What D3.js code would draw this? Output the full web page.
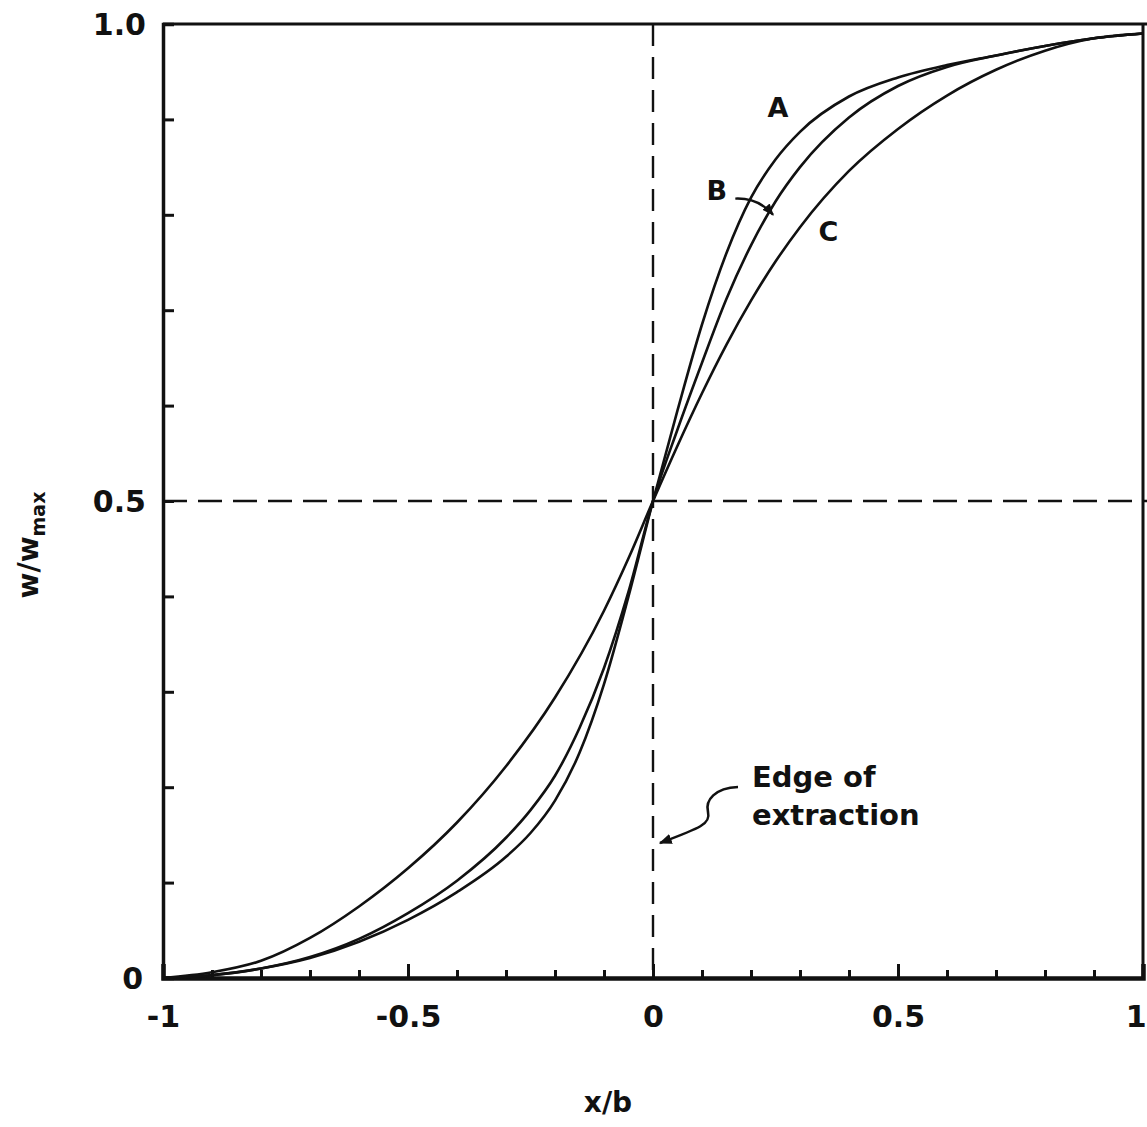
<!DOCTYPE html>
<html><head><meta charset="utf-8">
<script src="https://cdn.jsdelivr.net/npm/d3@7/dist/d3.min.js"></script>
<style>
body{margin:0;background:#fff;}
text{font-family:"DejaVu Sans",sans-serif;font-weight:bold;fill:#111;}
</style></head>
<body>
<svg id="chart" width="1147" height="1127"></svg>
<script>
// ---- data ----
const curveA_x = [-1.0,-0.9,-0.8,-0.7,-0.6,-0.5,-0.4,-0.3,-0.25,-0.2,-0.15,-0.1,-0.05,0,0.05,0.1,0.15,0.2,0.25,0.3,0.4,0.5,0.6,0.7,0.8,0.9,1.0];
const curveA_y = [0.0,0.003,0.010,0.021,0.038,0.061,0.090,0.127,0.152,0.186,0.236,0.308,0.400,0.5,0.595,0.685,0.760,0.818,0.858,0.887,0.924,0.944,0.957,0.967,0.977,0.985,0.99];
const curveB_x = [-1.0,-0.9,-0.8,-0.7,-0.6,-0.5,-0.4,-0.3,-0.25,-0.2,-0.15,-0.1,-0.05,0,0.05,0.1,0.15,0.2,0.25,0.3,0.4,0.5,0.6,0.7,0.8,0.9,1.0];
const curveB_y = [0.0,0.003,0.010,0.022,0.041,0.068,0.102,0.147,0.176,0.212,0.262,0.325,0.405,0.5,0.575,0.645,0.712,0.768,0.814,0.850,0.902,0.935,0.955,0.967,0.977,0.985,0.99];
const curveC_x = [-1.0,-0.9,-0.8,-0.7,-0.6,-0.5,-0.4,-0.3,-0.2,-0.1,-0.05,0,0.05,0.1,0.15,0.2,0.25,0.3,0.4,0.5,0.6,0.7,0.8,0.9,1.0];
const curveC_y = [0.0,0.006,0.018,0.042,0.075,0.115,0.163,0.222,0.294,0.385,0.440,0.5,0.558,0.613,0.664,0.710,0.751,0.787,0.846,0.890,0.925,0.952,0.972,0.985,0.99];
const curveLabels = ["A","B","C"];
const xTickLabels = ["-1","-0.5","0","0.5","1"];
const xMajorTicks = [-1,-0.5,0,0.5,1];
const yMajorTicks = [0,0.5,1.0];
const yTickLabels = ["0","0.5","1.0"];

// ---- layout ----
const svg = d3.select("#chart");
const L = 163, R = 1143, T = 24, B = 978;
const x = d3.scaleLinear().domain([-1,1]).range([L,R]);
const y = d3.scaleLinear().domain([0,1]).range([B,T]);
const ink = "#111";

// frame (top, right)
svg.append("line").attr("x1",L).attr("x2",1147).attr("y1",T).attr("y2",T).attr("stroke",ink).attr("stroke-width",3);
svg.append("line").attr("x1",R).attr("x2",R).attr("y1",T).attr("y2",B).attr("stroke",ink).attr("stroke-width",3);

// reference dashed lines
svg.append("line").attr("x1",L).attr("x2",1147).attr("y1",y(0.5)).attr("y2",y(0.5))
  .attr("stroke",ink).attr("stroke-width",2.6).attr("stroke-dasharray","24,11");
svg.append("line").attr("x1",x(0)).attr("x2",x(0)).attr("y1",T).attr("y2",B)
  .attr("stroke",ink).attr("stroke-width",2.4).attr("stroke-dasharray","22,11");

// y axis
const yMinor = d3.range(0,11).map(i=>i/10);
const gy = svg.append("g").attr("transform",`translate(${L},0)`)
  .call(d3.axisLeft(y).tickValues(yMinor).tickSize(-11).tickPadding(17)
    .tickFormat(d=>{const i=yMajorTicks.findIndex(v=>Math.abs(v-d)<1e-9);return i>=0?yTickLabels[i]:"";}));
gy.select(".domain").attr("stroke",ink).attr("stroke-width",3.5);
gy.selectAll(".tick line").attr("stroke",ink).attr("stroke-width",3);
gy.selectAll(".tick text").attr("font-size",30).attr("fill",ink).attr("dy","0.35em");
gy.selectAll(".tick text").filter(d=>d===0).attr("dx",-3);

// x axis minor
const xMinor = d3.range(-9,10).map(i=>i/10).filter(v=>!xMajorTicks.some(m=>Math.abs(m-v)<1e-9));
const gxm = svg.append("g").attr("transform",`translate(0,${B})`)
  .call(d3.axisBottom(x).tickValues(xMinor).tickSize(-8).tickFormat(""));
gxm.select(".domain").remove();
gxm.selectAll(".tick line").attr("stroke",ink).attr("stroke-width",3);
// x axis major
const gx = svg.append("g").attr("transform",`translate(0,${B})`)
  .call(d3.axisBottom(x).tickValues(xMajorTicks).tickSize(-14).tickPadding(28)
    .tickFormat((d,i)=>xTickLabels[i]));
gx.select(".domain").attr("stroke",ink).attr("stroke-width",4.5);
gx.selectAll(".tick line").attr("stroke",ink).attr("stroke-width",3);
gx.selectAll(".tick text").attr("font-size",30).attr("fill",ink);
gx.selectAll(".tick text").filter(d=>d===1).attr("text-anchor","end").attr("dx",3);

// curves
const line = d3.line().x(d=>x(d[0])).y(d=>y(d[1])).curve(d3.curveMonotoneX);
const series = [
  d3.zip(curveA_x,curveA_y),
  d3.zip(curveB_x,curveB_y),
  d3.zip(curveC_x,curveC_y)
];
series.forEach(s=>{
  svg.append("path").attr("d",line(s)).attr("fill","none").attr("stroke",ink).attr("stroke-width",2.6);
});

// curve labels
const labelPos = [[0.255,0.912],[0.13,0.825],[0.358,0.782]];
curveLabels.forEach((t,i)=>{
  svg.append("text").attr("x",x(labelPos[i][0])).attr("y",y(labelPos[i][1])).attr("font-size",27)
    .attr("text-anchor","middle").attr("dy","0.35em").text(t);
});
// B arrow
svg.append("defs").append("marker").attr("id","ah").attr("viewBox","0 0 10 10").attr("refX",9).attr("refY",5)
  .attr("markerWidth",5).attr("markerHeight",5).attr("orient","auto")
  .append("path").attr("d","M0,1 L10,5 L0,9 z").attr("fill",ink);
svg.append("path").attr("d",`M${x(0.168)},${y(0.817)} Q${x(0.215)},${y(0.818)} ${x(0.245)},${y(0.80)}`)
  .attr("fill","none").attr("stroke",ink).attr("stroke-width",2.4).attr("marker-end","url(#ah)");

// Edge of extraction annotation
svg.append("text").attr("x",752).attr("y",787).attr("font-size",29).text("Edge of");
svg.append("text").attr("x",752).attr("y",825).attr("font-size",29).text("extraction");
svg.append("path").attr("d","M738,787 C715,788 705,800 708,812 C711,824 700,828 660,843")
  .attr("fill","none").attr("stroke",ink).attr("stroke-width",2.6).attr("marker-end","url(#ah)");

// axis titles
svg.append("text").attr("x",608).attr("y",1112).attr("font-size",28).attr("text-anchor","middle").text("x/b");
const yt = svg.append("text").attr("transform","translate(38,545) rotate(-90)").attr("text-anchor","middle").attr("font-size",28);
yt.append("tspan").text("w/w");
yt.append("tspan").attr("font-size",19).attr("dy",7).text("max");
</script>
</body></html>
